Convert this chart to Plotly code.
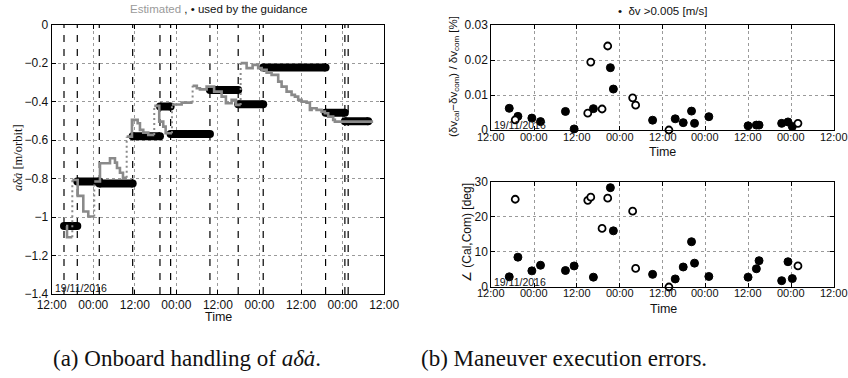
import plotly.graph_objects as go
from datetime import datetime, timedelta

# ---------------- data ----------------
T0 = datetime(2016, 11, 19, 12, 0)          # axis origin (12:00 on 19/11/2016)
AXIS_SPAN_H = 96                             # four days shown

# (a) dashed event lines (hours after T0)
event_hours = [3.55, 7.39, 13.74, 23.38, 31.26, 34.34, 45.69, 53.85, 61.07, 79.08, 84.65, 85.6]

# (a) a-delta-a-dot used by the guidance (piecewise constant)
guid_start = [3.55, 7.39, 13.74, 23.38, 31.26, 34.34, 45.69, 53.85, 61.07, 79.08, 84.65]
guid_end = [7.39, 13.74, 23.38, 31.26, 34.34, 45.69, 53.85, 61.07, 79.08, 84.65, 91.4]
guid_value = [-1.047, -0.815, -0.825, -0.58, -0.425, -0.568, -0.339, -0.414, -0.222, -0.458, -0.502]

# (a) onboard estimate, in pieces separated by large jumps
est_hours = [
    [4.13, 4.42, 5.95],
    [5.95, 7.50, 9.12, 10.56, 12.29],
    [12.29, 13.94, 16.83, 18.27, 18.85, 19.71, 20.58, 21.65],
    [21.65, 23.17, 24.82, 25.48, 26.44, 27.88, 29.61],
    [29.61, 31.05, 32.21, 32.90, 34.72],
    [34.72, 37.52, 40.69],
    [40.69, 41.9, 42.8, 44.73, 46.9, 49.06, 50.30, 51.95, 53.19, 54.55],
    [54.55, 56.28, 58.01, 59.62, 60.61, 62.05, 63.49, 65.40, 66.38, 67.82, 69.26, 70.22,
     71.17, 72.15, 73.59, 74.55, 75.04, 76.48, 77.92, 78.87, 79.83, 81.27, 81.76, 92.81],
]
est_values = [
    [-1.047, -1.105, -1.105],
    [-0.807, -0.89, -0.971, -0.997, -0.997],
    [-0.815, -0.72, -0.694, -0.717, -0.745, -0.77, -0.796, -0.796],
    [-0.582, -0.495, -0.512, -0.547, -0.561, -0.573, -0.573],
    [-0.422, -0.504, -0.53, -0.564, -0.564],
    [-0.415, -0.405, -0.405],
    [-0.318, -0.33, -0.336, -0.322, -0.348, -0.374, -0.408, -0.391, -0.417, -0.417],
    [-0.2, -0.226, -0.209, -0.226, -0.235, -0.249, -0.261, -0.296, -0.322, -0.348, -0.365, -0.374,
     -0.391, -0.4, -0.405, -0.443, -0.434, -0.443, -0.452, -0.46, -0.478, -0.495, -0.504, -0.504],
]

# (b) maneuvers with dv > 0.005 m/s (filled) and others (open)
filled_hours = [5.03, 7.46, 11.37, 13.79, 20.78, 23.21, 28.61, 33.37, 34.21, 45.20, 51.54,
                53.78, 56.11, 56.95, 60.96, 71.95, 74.28, 75.03, 81.37, 83.14, 84.35]
filled_dv_err = [0.0062, 0.0039, 0.0034, 0.0024, 0.0053, 0.0003, 0.0061, 0.0178, 0.0117, 0.0028,
                 0.0032, 0.0021, 0.0054, 0.0019, 0.0038, 0.0012, 0.0014, 0.0014, 0.0019, 0.0023, 0.0010]
filled_angle = [2.9, 8.5, 4.6, 6.2, 4.7, 6.0, 2.8, 28.3, 16.0, 3.6, 2.3, 5.7, 12.9, 6.8, 3.0,
                2.8, 5.2, 7.5, 1.8, 7.2, 2.4]
open_hours = [6.71, 27.03, 27.87, 31.04, 32.62, 39.61, 40.45, 49.77, 85.93]
open_dv_err = [0.0029, 0.0048, 0.0194, 0.0060, 0.0240, 0.0092, 0.0071, 0.0, 0.0019]
open_angle = [25.0, 24.7, 25.6, 16.7, 25.3, 21.6, 5.3, 0.0, 6.0]

date_label = "19/11/2016"

# ---------------- helpers ----------------
W, H = 848, 378


def t(h):
    return T0 + timedelta(hours=h)


def px(x, y):
    return x / W, 1 - y / H


SANS = "Liberation Sans, Arial, sans-serif"
SERIF = "Liberation Serif, Times New Roman, serif"

fig = go.Figure()

# ---- (a) guidance values: thick black bars with rounded ends
gx, gy = [], []
for s, e, v in zip(guid_start, guid_end, guid_value):
    gx += [t(s), t(e), None]
    gy += [v, v, None]
fig.add_trace(go.Scatter(x=gx, y=gy, mode="lines+markers", xaxis="x", yaxis="y",
                         line=dict(color="black", width=8),
                         marker=dict(color="black", size=8), hoverinfo="skip"))

# ---- (a) estimate: gray steps, dotted at large jumps
ex, ey, jx, jy = [], [], [], []
for i, (hs, vs) in enumerate(zip(est_hours, est_values)):
    ex += [t(h) for h in hs] + [None]
    ey += list(vs) + [None]
    if i + 1 < len(est_hours):
        jx += [t(hs[-1]), t(est_hours[i + 1][0]), None]
        jy += [vs[-1], est_values[i + 1][0], None]
fig.add_trace(go.Scatter(x=jx, y=jy, mode="lines", xaxis="x", yaxis="y",
                         line=dict(color="#8a8a8a", width=2, dash="2px,3px"), hoverinfo="skip"))
fig.add_trace(go.Scatter(x=ex, y=ey, mode="lines", xaxis="x", yaxis="y",
                         line=dict(color="#8a8a8a", width=2.6, shape="hv"), hoverinfo="skip"))

# ---- (b) scatter points
for ax_x, ax_y, fv, ov in [("x2", "y2", filled_dv_err, open_dv_err),
                           ("x3", "y3", filled_angle, open_angle)]:
    fig.add_trace(go.Scatter(x=[t(h) for h in filled_hours], y=fv, mode="markers",
                             xaxis=ax_x, yaxis=ax_y, cliponaxis=False,
                             marker=dict(color="black", size=8, line=dict(color="black", width=1))))
    fig.add_trace(go.Scatter(x=[t(h) for h in open_hours], y=ov, mode="markers",
                             xaxis=ax_x, yaxis=ax_y, cliponaxis=False,
                             marker=dict(color="white", size=7, line=dict(color="black", width=1.8))))

# ---- dashed event lines
shapes = []
for h in event_hours:
    shapes.append(dict(type="line", xref="x", yref="y domain", x0=t(h), x1=t(h), y0=0, y1=1,
                       layer="below", line=dict(color="black", width=1.2, dash="7px,7px")))

# ---------------- axes ----------------
tick_hours = list(range(0, AXIS_SPAN_H + 1, 12))
tick_text = [t(h).strftime("%H:%M") for h in tick_hours]
RANGE_PAD_H = 2 / 60   # tiny pad so the last 12:00 tick is strictly inside the range


def xaxis(domain, anchor, fsize=12, labels=True):
    return dict(domain=domain, anchor=anchor, type="date", automargin=False,
                ticklabeloverflow="allow", showticklabels=labels,
                range=[t(0), t(AXIS_SPAN_H + RANGE_PAD_H)], tickmode="array",
                tickvals=[t(h) for h in tick_hours], ticktext=tick_text,
                showline=True, linecolor="black", linewidth=1,
                mirror="ticks", ticks="inside", ticklen=4, tickcolor="black",
                showgrid=True, gridcolor="#9a9a9a", griddash="dot", gridwidth=1,
                zeroline=False, tickfont=dict(family=SANS, size=fsize, color="#111"))


def yaxis(domain, anchor, rng, dtick, fmt=None):
    d = dict(domain=domain, anchor=anchor, range=rng, dtick=dtick, tick0=0, automargin=False,
             ticklabeloverflow="allow",
             showline=True, linecolor="black", linewidth=1, mirror="ticks",
             ticks="inside", ticklen=4, tickcolor="black",
             showgrid=True, gridcolor="#9a9a9a", griddash="dot", gridwidth=1,
             zeroline=False, tickfont=dict(family=SANS, size=12, color="#111"))
    if fmt:
        d["tickformat"] = fmt
    return d


# domains in paper fractions (margins are zero)
L_X = [51.7 / W, 384.3 / W]
L_Y = [1 - 294 / H, 1 - 24.7 / H]
R_X = [491.3 / W, 834.0 / W]
RT_Y = [1 - 130 / H, 1 - 25 / H]
RB_Y = [1 - 287 / H, 1 - 181.7 / H]

annotations = []


def ann(text, x, y, size=12, family=SANS, angle=0, xanchor="center", yanchor="middle", color="#111"):
    ax, ay = px(x, y)
    annotations.append(dict(text=text, x=ax, y=ay, xref="paper", yref="paper", showarrow=False,
                            xanchor=xanchor, yanchor=yanchor, textangle=angle,
                            font=dict(family=family, size=size, color=color)))


# time tick labels of the right-hand panels, placed through their date axes
for xr, ypix in [("x2", 137), ("x3", 293)]:
    for h, lab in zip(tick_hours, tick_text):
        annotations.append(dict(text=lab, x=t(h), xref=xr, y=1 - ypix / H, yref="paper",
                                showarrow=False, xanchor="center", yanchor="middle",
                                font=dict(family=SANS, size=11, color="#111")))

ann("<span style='color:#9a9a9a'>Estimated</span> , \u2022 used by the guidance", 218, 9, size=11.5)
ann("\u2022  \u03b4v >0.005 [m/s]", 662, 11, size=11.5)
ann("<i>a\u03b4\u0227</i> [m/orbit]", 18, 158, size=12.5, family=SERIF, angle=-90)
ann("(\u03b4v<sub>cal</sub>\u2212\u03b4v<sub>com</sub>) / \u03b4v<sub>com</sub> [%]", 454, 76, size=11.5, angle=-90)
ann("\u2220 (Cal,Com) [deg]", 467, 233, size=12, angle=-90)
ann("Time", 218.5, 317, size=12.5)
ann("Time", 662, 152, size=12.5)
ann("Time", 663, 309, size=12.5)
ann(date_label, 53, 288, size=10.5, xanchor="left")
ann(date_label, 492, 125, size=10.5, xanchor="left")
ann(date_label, 492, 281.5, size=10.5, xanchor="left")
ann("(a) Onboard handling of <i>a\u03b4\u0227</i>.", 187, 358, size=23, family=SERIF)
ann("(b) Maneuver execution errors.", 564, 358, size=23, family=SERIF)

fig.update_layout(
    width=W, height=H, margin=dict(l=0, r=0, t=0, b=0, autoexpand=False),
    paper_bgcolor="white", plot_bgcolor="white", showlegend=False,
    xaxis=xaxis(L_X, "y"), yaxis=yaxis(L_Y, "x", [-1.4, 0], 0.2),
    xaxis2=xaxis(R_X, "y2", 11, labels=False), yaxis2=yaxis(RT_Y, "x2", [0, 0.03], 0.01),
    xaxis3=xaxis(R_X, "y3", 11, labels=False), yaxis3=yaxis(RB_Y, "x3", [0, 30], 10),
    shapes=shapes, annotations=annotations,
)

fig.write_html("out.html", config={"displayModeBar": False},
               post_script="document.body.style.margin='0';document.body.style.overflow='hidden';")
